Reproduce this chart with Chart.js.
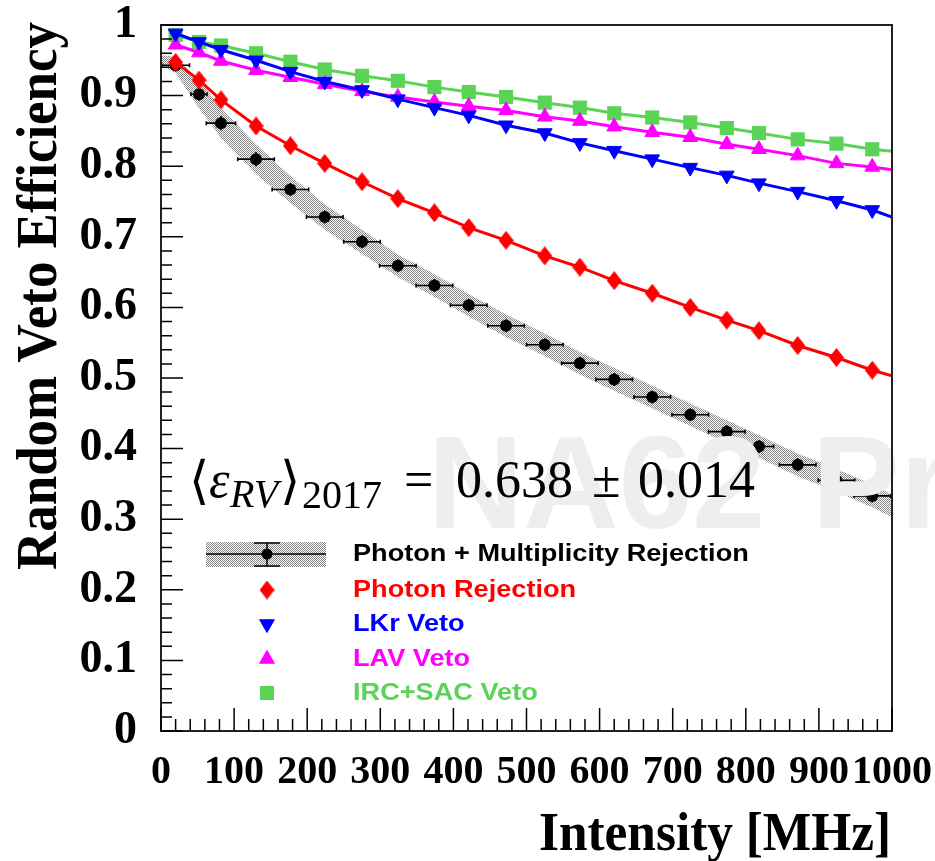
<!DOCTYPE html>
<html>
<head>
<meta charset="utf-8">
<script src="https://cdn.jsdelivr.net/npm/chart.js@4.4.1/dist/chart.umd.min.js"></script>
<style>
  html, body { margin: 0; padding: 0; background: #fff; }
</style>
</head>
<body>
<canvas id="c" width="935" height="861"></canvas>
<script>
// data
var intensity = [20, 52, 82, 130, 177, 224, 275, 324, 374, 421, 472, 525, 573, 620, 672, 724, 774, 818, 871, 924, 973];

var photonMult = [0.943, 0.902, 0.861, 0.810, 0.767, 0.728, 0.693, 0.659, 0.631, 0.603, 0.574, 0.547, 0.521, 0.498, 0.473, 0.448, 0.424, 0.403, 0.377, 0.355, 0.333];
var photonMultXErr = [19, 11, 20, 25, 25, 25, 25, 25, 25, 25, 25, 25, 25, 25, 25, 25, 25, 20, 25, 25, 25];
var photonMultYErr = [0.005, 0.005, 0.006, 0.006, 0.005, 0.005, 0.005, 0.005, 0.005, 0.005, 0.005, 0.005, 0.005, 0.005, 0.005, 0.005, 0.005, 0.005, 0.005, 0.005, 0.005];

// systematic band of the black series
var bandX = [0, 20, 52, 82, 130, 177, 224, 275, 324, 374, 421, 472, 525, 573, 620, 672, 724, 774, 818, 871, 924, 973, 1000];
var bandUp = [0.957, 0.955, 0.922, 0.882, 0.831, 0.786, 0.746, 0.710, 0.675, 0.647, 0.619, 0.590, 0.563, 0.537, 0.514, 0.489, 0.464, 0.440, 0.419, 0.393, 0.371, 0.349, 0.335];
var bandLow = [0.943, 0.932, 0.882, 0.840, 0.789, 0.748, 0.710, 0.676, 0.643, 0.615, 0.587, 0.558, 0.531, 0.505, 0.482, 0.457, 0.432, 0.408, 0.387, 0.361, 0.339, 0.317, 0.303];

var photonRej = [0.947, 0.922, 0.894, 0.857, 0.829, 0.804, 0.778, 0.754, 0.734, 0.713, 0.695, 0.673, 0.657, 0.638, 0.620, 0.600, 0.582, 0.567, 0.546, 0.529, 0.511];
var lkrVeto = [0.988, 0.976, 0.965, 0.950, 0.934, 0.920, 0.908, 0.895, 0.883, 0.872, 0.858, 0.847, 0.833, 0.822, 0.810, 0.798, 0.787, 0.776, 0.764, 0.751, 0.738];
var lavVeto = [0.972, 0.961, 0.949, 0.936, 0.926, 0.916, 0.906, 0.898, 0.891, 0.885, 0.879, 0.870, 0.864, 0.856, 0.848, 0.841, 0.831, 0.824, 0.815, 0.804, 0.799];
var ircSacVeto = [0.986, 0.976, 0.971, 0.960, 0.948, 0.937, 0.928, 0.921, 0.912, 0.905, 0.898, 0.890, 0.883, 0.875, 0.869, 0.862, 0.854, 0.847, 0.838, 0.832, 0.824];

// where the fit lines end, at 1000 MHz (photon, LKr, LAV, IRC+SAC)
var fitAt1000 = [0.503, 0.728, 0.795, 0.821];

var legendLabels = ["Photon + Multiplicity Rejection", "Photon Rejection", "LKr Veto", "LAV Veto", "IRC+SAC Veto"];
var xTickLabels = ["0", "100", "200", "300", "400", "500", "600", "700", "800", "900", "1000"];
var yTickLabels = ["0", "0.1", "0.2", "0.3", "0.4", "0.5", "0.6", "0.7", "0.8", "0.9", "1"];

var RED = "#ff0000", BLUE = "#0000ff", MAGENTA = "#ff00ff", GREEN = "#59d454";

function pts(xs, ys) {
  return xs.map(function (x, i) { return { x: x, y: ys[i] }; });
}
function withEnd(ys, end) {
  return pts(intensity, ys).concat([{ x: 1000, y: end }]);
}
function markerSize(r) {
  return function (ctx) { return ctx.dataIndex < intensity.length ? r : 0; };
}

// diamond marker (taller than wide, like ROOT's)
function diamond(w, h, color) {
  var c = document.createElement("canvas");
  c.width = w; c.height = h;
  var g = c.getContext("2d");
  g.fillStyle = color;
  g.beginPath();
  g.moveTo(w / 2, 0); g.lineTo(w, h / 2); g.lineTo(w / 2, h); g.lineTo(0, h / 2);
  g.closePath();
  g.fill();
  return c;
}
var redDiamond = diamond(15, 19, RED);

// dotted fill for the band
var pc = document.createElement("canvas");
pc.width = 2; pc.height = 2;
var pg = pc.getContext("2d");
pg.fillStyle = "rgba(0,0,0,0.48)";
pg.fillRect(0, 0, 1, 1);
pg.fillRect(1, 1, 1, 1);
var bandPattern = pg.createPattern(pc, "repeat");

var inwardTicks = {
  id: "inwardTicks",
  beforeDatasetDraw: function (chart, args) {
    // error bars of the black series, under its dots
    if (args.index !== 2) return;
    var ctx = chart.ctx, xs = chart.scales.x, ys = chart.scales.y;
    ctx.save();
    ctx.strokeStyle = "#000";
    ctx.lineWidth = 1.6;
    intensity.forEach(function (x, i) {
      var px = xs.getPixelForValue(x), py = ys.getPixelForValue(photonMult[i]);
      var x0 = xs.getPixelForValue(x - photonMultXErr[i]), x1 = xs.getPixelForValue(x + photonMultXErr[i]);
      var y0 = ys.getPixelForValue(photonMult[i] - photonMultYErr[i]), y1 = ys.getPixelForValue(photonMult[i] + photonMultYErr[i]);
      ctx.beginPath();
      ctx.moveTo(x0, py); ctx.lineTo(x1, py);
      ctx.moveTo(px, y0 + 3); ctx.lineTo(px, y1 - 3);
      ctx.moveTo(x0, py - 2); ctx.lineTo(x0, py + 2);
      ctx.moveTo(x1, py - 2); ctx.lineTo(x1, py + 2);
      ctx.stroke();
    });
    ctx.restore();
  },
  afterDatasetsDraw: function (chart) {
    var ctx = chart.ctx, a = chart.chartArea, xs = chart.scales.x, ys = chart.scales.y;
    ctx.save();

    // watermark, drawn over the data
    ctx.fillStyle = "#eeeeee";
    ctx.font = "bold 132px 'Liberation Sans'";
    ctx.textBaseline = "alphabetic";
    ctx.fillText("NA62", 428, 528);
    ctx.fillText("Preliminary", 812, 528);

    // frame
    ctx.strokeStyle = "#222";
    ctx.lineWidth = 2;
    ctx.strokeRect(a.left, a.top, a.right - a.left, a.bottom - a.top);

    // ticks inside the frame
    ctx.lineWidth = 1.5;
    ctx.strokeStyle = "#000";
    ctx.beginPath();
    var i, p;
    for (i = 0; i <= 50; i++) {
      p = ys.getPixelForValue(i / 50);
      ctx.moveTo(a.left, p);
      ctx.lineTo(a.left + (i % 5 === 0 ? 22 : 11), p);
    }
    for (i = 0; i <= 50; i++) {
      p = xs.getPixelForValue(i * 20);
      ctx.moveTo(p, a.bottom);
      ctx.lineTo(p, a.bottom - (i % 5 === 0 ? 23 : 12));
    }
    ctx.stroke();
    ctx.restore();
  },
  afterDraw: function (chart) {
    var ctx = chart.ctx;
    ctx.save();
    ctx.fillStyle = "#000";
    ctx.textBaseline = "alphabetic";

    // axis titles, narrow Times-like lettering
    ctx.font = "bold 54px 'Liberation Serif'";
    var t = "Intensity [MHz]", w = ctx.measureText(t).width;
    ctx.save();
    ctx.translate(891, 850);
    ctx.scale(352 / w, 1);
    ctx.textAlign = "right";
    ctx.fillText(t, 0, 0);
    ctx.restore();

    ctx.font = "bold 56px 'Liberation Serif'";
    t = "Random Veto Efficiency";
    w = ctx.measureText(t).width;
    ctx.save();
    ctx.translate(56, 22);
    ctx.rotate(-Math.PI / 2);
    ctx.scale(548 / w, 1);
    ctx.textAlign = "right";
    ctx.fillText(t, 0, 0);
    ctx.restore();

    // average efficiency annotation
    ctx.textAlign = "left";
    ctx.font = "52px 'DejaVu Serif'";
    ctx.fillText("\u27E8", 189, 498);
    ctx.fillText("\u27E9", 280, 498);
    ctx.font = "italic 52px 'Liberation Serif'";
    ctx.fillText("\u03B5", 209, 497);
    ctx.font = "italic 40px 'Liberation Serif'";
    ctx.fillText("RV", 230, 507);
    ctx.font = "40px 'Liberation Serif'";
    ctx.fillText("2017", 302, 508);
    ctx.font = "52px 'Liberation Serif'";
    ctx.fillText("=", 404, 497);
    ctx.fillText("0.638", 456, 497);
    ctx.fillText("\u00B1", 592, 497);
    ctx.fillText("0.014", 638, 497);

    // legend
    var rows = [554, 590, 624, 659, 693];
    var colors = ["#000", RED, BLUE, MAGENTA, GREEN];
    var mx = 267;
    ctx.fillStyle = bandPattern;
    ctx.fillRect(206, 542, 120, 25);
    ctx.strokeStyle = "#000";
    ctx.lineWidth = 1.5;
    ctx.beginPath();
    ctx.moveTo(206, rows[0]); ctx.lineTo(326, rows[0]);
    ctx.moveTo(mx, 543); ctx.lineTo(mx, 566);
    ctx.moveTo(mx - 13, 543); ctx.lineTo(mx + 13, 543);
    ctx.moveTo(mx - 13, 566); ctx.lineTo(mx + 13, 566);
    ctx.stroke();
    ctx.fillStyle = "#000";
    ctx.beginPath(); ctx.arc(mx, rows[0], 5.5, 0, Math.PI * 2); ctx.fill();

    ctx.drawImage(redDiamond, mx - 7.5, rows[1] - 9.5);
    ctx.fillStyle = BLUE; ctx.strokeStyle = BLUE; ctx.lineWidth = 1;
    Chart.helpers.drawPoint(ctx, { pointStyle: "triangle", radius: 8.5, rotation: 180, borderWidth: 1 }, mx, rows[2]);
    ctx.fillStyle = MAGENTA; ctx.strokeStyle = MAGENTA;
    Chart.helpers.drawPoint(ctx, { pointStyle: "triangle", radius: 8.5, rotation: 0, borderWidth: 1 }, mx, rows[3]);
    ctx.fillStyle = GREEN;
    ctx.fillRect(mx - 7, rows[4] - 7, 14, 14);

    ctx.font = "bold 23px 'Liberation Sans'";
    ctx.textBaseline = "middle";
    legendLabels.forEach(function (label, i) {
      ctx.save();
      ctx.fillStyle = colors[i];
      ctx.translate(353, rows[i]);
      ctx.scale(1.18, 1);
      ctx.fillText(label, 0, 1);
      ctx.restore();
    });
    ctx.restore();
  }
};

new Chart(document.getElementById("c"), {
  type: "scatter",
  data: {
    datasets: [
      {
        label: "band up",
        data: pts(bandX, bandUp),
        showLine: true,
        fill: "+1",
        backgroundColor: bandPattern,
        borderColor: "transparent",
        borderWidth: 0,
        pointRadius: 0,
        order: 6
      },
      {
        label: "band low",
        data: pts(bandX, bandLow),
        showLine: true,
        fill: false,
        borderColor: "transparent",
        borderWidth: 0,
        pointRadius: 0,
        order: 7
      },
      {
        label: legendLabels[0],
        data: pts(intensity, photonMult),
        showLine: false,
        pointStyle: "circle",
        pointRadius: 6,
        pointBackgroundColor: "#000",
        pointBorderWidth: 0,
        order: 5
      },
      {
        label: legendLabels[1],
        data: withEnd(photonRej, fitAt1000[0]),
        showLine: true,
        borderColor: RED,
        borderWidth: 3,
        pointStyle: redDiamond,
        pointRadius: markerSize(7),
        order: 0
      },
      {
        label: legendLabels[2],
        data: withEnd(lkrVeto, fitAt1000[1]),
        showLine: true,
        borderColor: BLUE,
        borderWidth: 3,
        pointStyle: "triangle",
        pointRotation: 180,
        pointRadius: markerSize(8.5),
        pointBackgroundColor: BLUE,
        pointBorderColor: BLUE,
        pointBorderWidth: 1,
        order: 1
      },
      {
        label: legendLabels[3],
        data: withEnd(lavVeto, fitAt1000[2]),
        showLine: true,
        borderColor: MAGENTA,
        borderWidth: 3,
        pointStyle: "triangle",
        pointRadius: markerSize(8.5),
        pointBackgroundColor: MAGENTA,
        pointBorderColor: MAGENTA,
        pointBorderWidth: 1,
        order: 2
      },
      {
        label: legendLabels[4],
        data: withEnd(ircSacVeto, fitAt1000[3]),
        showLine: true,
        borderColor: GREEN,
        borderWidth: 3,
        pointStyle: "rect",
        pointRadius: markerSize(10),
        pointBackgroundColor: GREEN,
        pointBorderWidth: 0,
        order: 3
      }
    ]
  },
  options: {
    responsive: false,
    animation: false,
    events: [],
    layout: { padding: { top: 25, right: 43, left: 0, bottom: 0 } },
    plugins: {
      legend: { display: false },
      tooltip: { enabled: false }
    },
    scales: {
      x: {
        type: "linear",
        min: 0,
        max: 1000,
        grid: { display: false },
        border: { display: false },
        ticks: {
          stepSize: 100,
          padding: 10,
          color: "#000",
          maxRotation: 0,
          autoSkip: false,
          font: { family: "'Liberation Serif'", weight: "bold", size: 40 },
          callback: function (v, i) { return xTickLabels[i]; }
        },
        afterFit: function (s) { s.height = 130; s.paddingLeft = 0; s.paddingRight = 0; }
      },
      y: {
        type: "linear",
        min: 0,
        max: 1,
        grid: { display: false },
        border: { display: false },
        ticks: {
          stepSize: 0.1,
          padding: 16,
          color: "#000",
          autoSkip: false,
          font: { family: "'Liberation Serif'", weight: "bold", size: 46 },
          callback: function (v, i) { return yTickLabels[i]; }
        },
        afterFit: function (s) { s.width = 161; s.paddingTop = 0; s.paddingBottom = 0; }
      }
    }
  },
  plugins: [inwardTicks]
});
</script>
</body>
</html>
